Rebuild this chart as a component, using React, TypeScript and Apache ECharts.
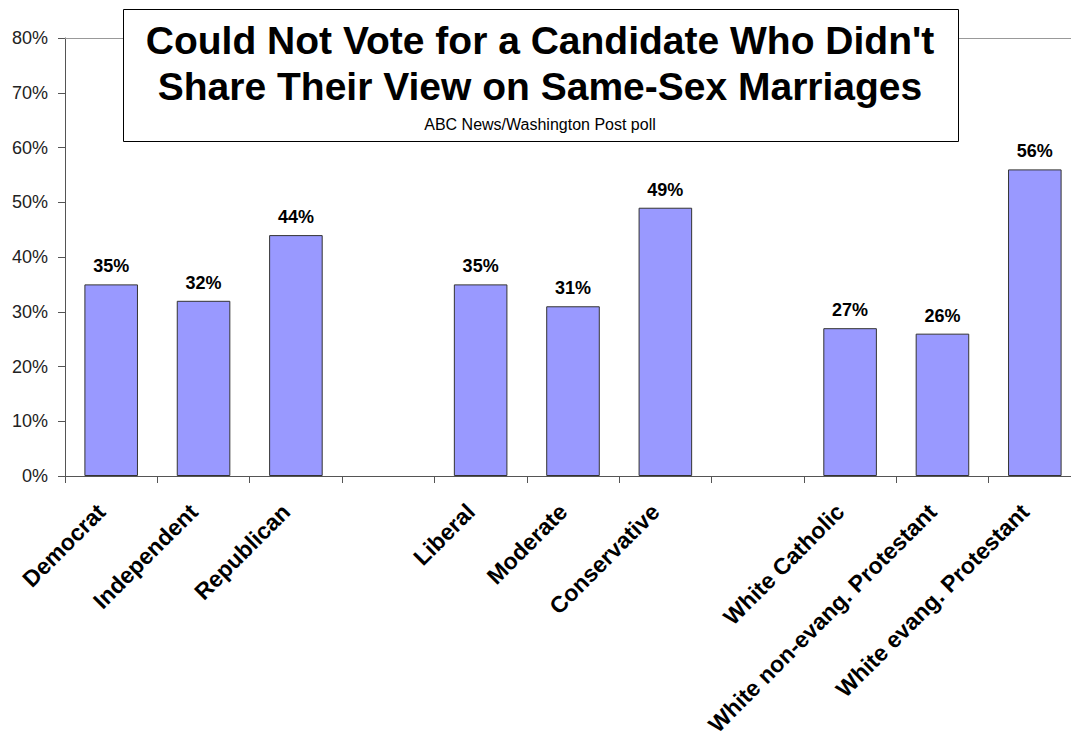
import React, { useEffect, useRef } from "react";
import * as echarts from "echarts";

const categories = [
  "Democrat",
  "Independent",
  "Republican",
  "",
  "Liberal",
  "Moderate",
  "Conservative",
  "",
  "White Catholic",
  "White non-evang. Protestant",
  "White evang. Protestant",
];
const values: (number | null)[] = [35, 32, 44, null, 35, 31, 49, null, 27, 26, 56];
const titleLine1 = "Could Not Vote for a Candidate Who Didn't";
const titleLine2 = "Share Their View on Same-Sex Marriages";
const subtitle = "ABC News/Washington Post poll";
const yMax = 80;
const yStep = 10;

const FONT = "'Liberation Sans', Arial, Helvetica, sans-serif";

export default function App() {
  const ref = useRef<HTMLDivElement>(null);
  useEffect(() => {
    if (!ref.current) return;
    const chart = echarts.init(ref.current, undefined, { renderer: "svg" });
    chart.setOption({
      animation: false,
      backgroundColor: "#ffffff",
      textStyle: { fontFamily: FONT },
      grid: {
        left: 65,
        width: 1016,
        top: 38,
        height: 438,
        containLabel: false,
        outerBoundsMode: "none",
      },
      xAxis: {
        type: "category",
        data: categories,
        boundaryGap: true,
        axisLine: { show: true, lineStyle: { color: "#555", width: 1 } },
        axisTick: { show: true, length: 7, interval: 0, alignWithLabel: false, lineStyle: { color: "#555" } },
        axisLabel: {
          interval: 0,
          rotate: 45,
          margin: 22,
          padding: [0, 14, 12, 0],
          color: "#000",
          fontWeight: "bold",
          fontSize: 23,
          fontFamily: FONT,
        },
        splitLine: { show: false },
      },
      yAxis: {
        type: "value",
        min: 0,
        max: yMax,
        interval: yStep,
        axisLine: { show: true, lineStyle: { color: "#555", width: 1 } },
        axisTick: { show: true, length: 7, inside: false, lineStyle: { color: "#555" } },
        axisLabel: {
          formatter: "{value}%",
          color: "#222",
          fontSize: 18,
          margin: 17,
          fontFamily: FONT,
        },
        splitLine: { show: false },
      },
      series: [
        {
          type: "bar",
          data: values,
          barWidth: "58%",
          itemStyle: { color: "#9999ff", borderColor: "#333", borderWidth: 1 },
          label: {
            show: true,
            position: "top",
            distance: 9,
            formatter: "{c}%",
            color: "#000",
            fontWeight: "bold",
            fontSize: 18,
            fontFamily: FONT,
          },
          markLine: {
            silent: true,
            symbol: "none",
            label: { show: false },
            lineStyle: { color: "#999", type: "solid", width: 1 },
            data: [{ yAxis: yMax }],
            z: 1,
          },
        },
      ],
      graphic: [
        {
          type: "rect",
          left: 123,
          top: 9,
          shape: { width: 835, height: 132 },
          style: { fill: "#fff", stroke: "#000", lineWidth: 1 },
          z: 100,
        },
        {
          type: "text",
          x: 540,
          y: 40,
          style: {
            text: titleLine1,
            fill: "#000",
            font: `bold 39px ${FONT}`,
            textAlign: "center",
            textVerticalAlign: "middle",
          },
          z: 101,
        },
        {
          type: "text",
          x: 540,
          y: 86,
          style: {
            text: titleLine2,
            fill: "#000",
            font: `bold 39px ${FONT}`,
            textAlign: "center",
            textVerticalAlign: "middle",
          },
          z: 101,
        },
        {
          type: "text",
          x: 540,
          y: 124,
          style: {
            text: subtitle,
            fill: "#000",
            font: `16px ${FONT}`,
            textAlign: "center",
            textVerticalAlign: "middle",
          },
          z: 101,
        },
      ],
    });
    return () => chart.dispose();
  }, []);
  return (
    <div
      ref={ref}
      style={{ position: "absolute", left: 0, top: 0, width: 1071, height: 736, overflow: "hidden" }}
    />
  );
}
